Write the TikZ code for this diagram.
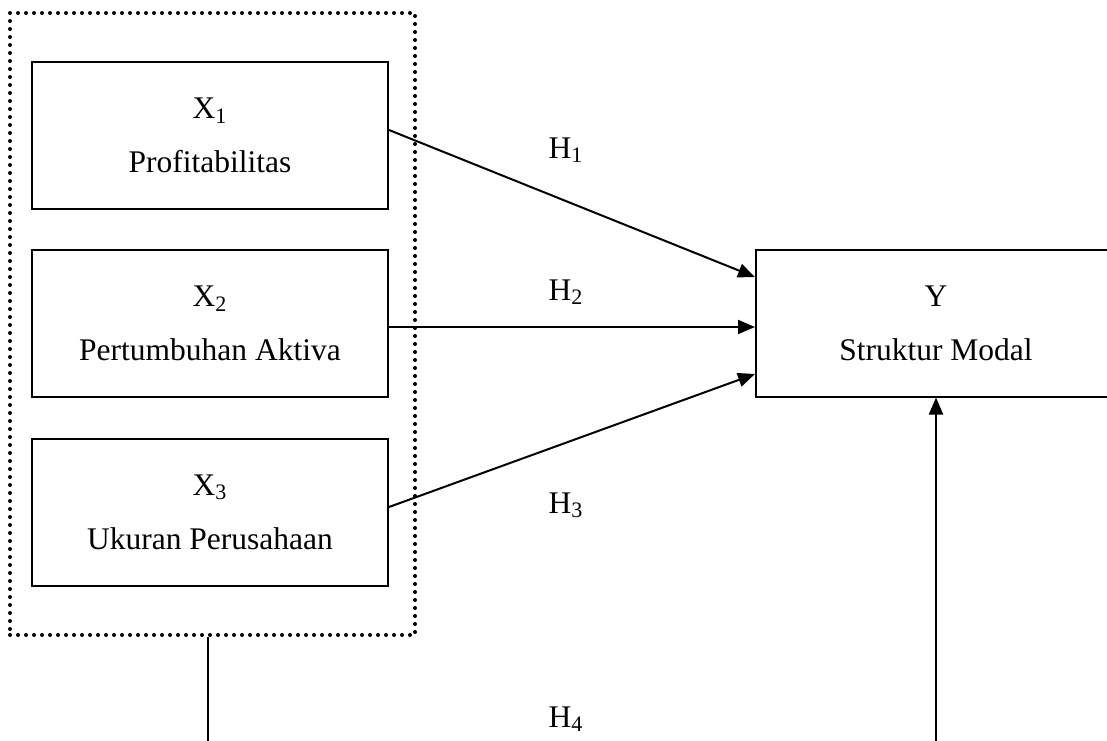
\documentclass[tikz,border=0pt]{standalone}
\usepackage{fontspec}
\setmainfont{Liberation Serif}
\usetikzlibrary{arrows.meta}

\begin{document}
\begin{tikzpicture}[x=0.5pt,y=-0.5pt,
    varbox/.style={draw,line width=1pt,minimum width=178pt,minimum height=73.5pt,inner sep=0pt,align=center,font=\fontsize{15.75}{27}\selectfont},
    hyp/.style={-{Triangle[length=8.5pt,width=7pt]},line width=1pt},
    hlabel/.style={anchor=base,inner sep=0pt,font=\fontsize{15.75}{19}\selectfont}]
                      \clip(0,0)rectangle(1107,740);
                      % kotak variabel independen
                      \node[draw,line width=2pt,dash pattern=on 0pt off 4pt,line cap=round,minimum width=202.5pt,minimum height=311pt,inner sep=0pt](grp)at(212.5,324){};
                      \node[varbox](x1)at(210,135.5){X\textsubscript{1}\\Profitabilitas};
                      \node[varbox](x2)at(210,323.5){X\textsubscript{2}\\Pertumbuhan Aktiva};
                      \node[varbox](x3)at(210,512){X\textsubscript{3}\\Ukuran Perusahaan};
                      \node[varbox,minimum width=180pt](y)at(936,323){Y\\Struktur Modal};
                      % hipotesis
                      \draw[hyp]([yshift=2.75pt]x1.east)--([yshift=23pt]y.west);
                      \draw[hyp]([yshift=-1.75pt]x2.east)--([yshift=-1.75pt]x2.east-|y.west);
                      \draw[hyp]([yshift=2.5pt]x3.east)--([yshift=-25.5pt]y.west);
                      \draw[hyp]([xshift=-2.25pt]grp.south)--++(0,150)-|(y.south);
                      \node[hlabel](h1)at(566,158){H\textsubscript{1}};
                      \node[hlabel](h2)at(566,300){H\textsubscript{2}};
                      \node[hlabel](h3)at(566,513){H\textsubscript{3}};
                      \node[hlabel](h4)at(566,727){H\textsubscript{4}};
                  \end{tikzpicture}
\end{document}
